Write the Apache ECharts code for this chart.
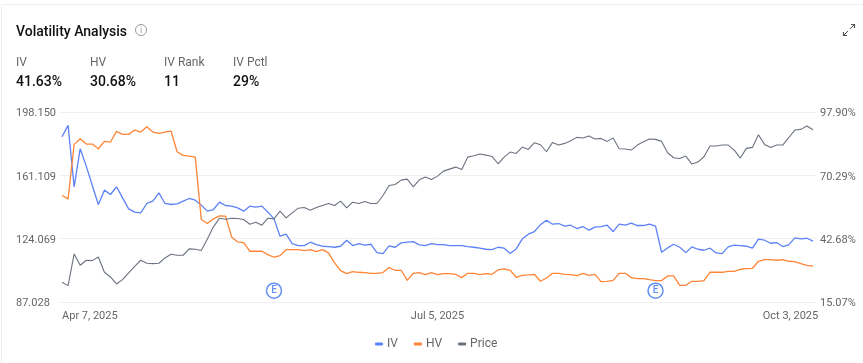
<!DOCTYPE html>
<html>
<head>
<meta charset="utf-8">
<style>html,body{margin:0;padding:0;background:#fff}#chart{width:863px;height:363px}</style>
<script src="https://cdn.jsdelivr.net/npm/echarts@6/dist/echarts.min.js"></script>
</head>
<body>
<div id="chart"></div>
<script>
var ivValues = [
  87.13,92.08,65.29,81.89,74.32,65.87,57.58,63.84,61.94,65.29,
  60.49,55.68,54.23,53.94,58.02,59.03,62.67,58.02,57.58,57.87,
  59.03,60.20,59.47,57.29,54.67,55.39,58.6,57.14,56.85,56.12,
  54.67,56.85,56.41,56.85,54.23,51.32,43.75,44.62,40.55,39.67,
  39.67,41.13,40.11,39.38,39.23,38.94,39.38,42.0,39.67,40.55,
  39.82,40.25,36.6,36.18,39.53,38.94,40.84,41.13,41.42,39.96,
  39.67,40.55,40.11,40.11,39.67,39.67,39.67,39.23,38.94,38.51,
  38.07,37.92,38.94,38.51,36.18,38.22,42.58,44.62,45.78,48.7,
  50.74,49.0,49.28,48.12,48.55,47.1,47.97,46.37,47.68,47.97,
  48.55,45.78,49.0,48.55,49.43,48.41,48.41,49.0,48.12,36.76,
  38.65,40.25,38.94,36.6,39.09,38.07,37.63,38.51,36.47,36.18,
  39.09,39.82,39.67,39.38,38.51,42.44,42.0,40.69,40.98,39.23,
  39.96,43.02,42.58,42.87,41.63
];
var hvValues = [
  61.51,60.05,83.78,86.25,83.93,83.93,81.89,85.09,84.8,89.45,
  88.15,88.15,90.04,89.17,91.5,89.17,88.58,89.17,89.6,80.58,
  78.98,78.69,78.25,51.03,49.28,51.32,52.63,52.48,43.46,41.27,
  40.98,37.2,37.2,37.2,35.74,34.58,35.3,37.92,37.92,37.92,
  37.49,37.92,37.05,37.92,36.47,32.1,28.75,27.44,28.32,28.03,
  27.88,27.59,27.59,27.88,30.06,28.9,28.9,24.53,27.59,27.88,
  27.01,27.88,27.01,27.44,27.44,27.15,25.7,27.59,27.59,27.01,
  27.44,27.15,29.05,29.48,28.9,25.84,26.72,26.86,27.15,24.1,
  25.55,27.59,27.59,27.15,27.01,26.57,27.59,26.72,27.15,23.95,
  24.1,24.53,27.59,27.59,25.7,25.26,25.26,24.82,24.39,24.39,
  26.42,26.42,22.35,22.35,24.1,24.1,24.39,28.03,28.03,28.03,
  28.46,28.46,29.34,29.63,29.77,32.83,33.56,33.56,33.27,33.56,
  32.83,32.68,31.81,31.08,30.68
];
var priceValues = [
  98.55,96.6,115.15,108.51,111.44,111.24,113.39,104.41,101.67,97.57,
  100.11,104.02,107.92,111.44,109.68,109.49,109.68,112.81,114.95,114.37,
  114.37,118.08,117.88,117.1,123.94,130.97,136.04,135.46,136.04,135.85,
  135.26,132.53,133.7,131.94,136.04,135.65,140.14,136.24,139.17,141.9,
  142.29,140.73,142.29,143.47,144.64,143.47,146.0,142.1,145.4,144.64,
  145.81,144.64,144.64,149.33,155.18,155.77,158.31,158.89,154.4,158.5,
  160.07,158.7,160.65,163.58,164.75,165.92,164.56,171.78,172.56,173.54,
  172.95,172.17,167.88,171.78,174.71,173.93,177.64,176.28,180.18,179.0,
  174.91,180.38,178.81,179.79,181.35,183.3,182.91,184.09,182.33,182.72,
  180.96,182.91,176.67,176.47,175.88,178.81,180.77,182.33,182.13,180.96,
  174.32,171.39,171.0,172.37,167.68,168.85,171.98,178.23,178.23,178.81,
  178.81,175.88,171.2,176.86,177.45,184.87,179.2,177.45,178.81,178.81,
  183.11,187.6,187.99,189.95,187.8
];
var priceTicks = [87.028, 124.069, 161.109, 198.150];
var pctTicks = [15.07, 42.68, 70.29, 97.90];
var xLabels = {0: 'Apr 7, 2025', 62: 'Jul 5, 2025', 124: 'Oct 3, 2025'};
var earnings = [[35, 20], [98, 20]];
var stats = [
  {name: 'IV', value: '41.63%', x: 16},
  {name: 'HV', value: '30.68%', x: 90},
  {name: 'IV Rank', value: '11', x: 164},
  {name: 'IV Pctl', value: '29%', x: 233}
];

var FONT = 'Roboto';
var categories = ivValues.map(function (v, i) { return i; });

var graphics = [
  {type: 'polyline', shape: {points: [[1.5, 363], [1.5, 4.5], [863, 4.5]]}, style: {fill: 'none', stroke: '#eeeeee', lineWidth: 1}, silent: true},
  {type: 'text', x: 16, y: 32, style: {text: 'Volatility Analysis', font: '500 14px ' + FONT, fill: '#111', verticalAlign: 'middle'}},
  {type: 'circle', shape: {cx: 141, cy: 30, r: 5.5}, style: {fill: 'none', stroke: '#999', lineWidth: 1}},
  {type: 'text', x: 141, y: 30.5, style: {text: 'i', font: '9px ' + FONT, fill: '#999', align: 'center', verticalAlign: 'middle'}},
  {type: 'polyline', shape: {points: [[850, 29], [855, 24]]}, style: {stroke: '#555', lineWidth: 1, fill: 'none'}},
  {type: 'polyline', shape: {points: [[851, 24.5], [854.5, 24.5], [854.5, 28]]}, style: {stroke: '#555', lineWidth: 1.2, fill: 'none'}},
  {type: 'polyline', shape: {points: [[848, 31], [843, 36]]}, style: {stroke: '#555', lineWidth: 1, fill: 'none'}},
  {type: 'polyline', shape: {points: [[843.5, 32], [843.5, 35.5], [847, 35.5]]}, style: {stroke: '#555', lineWidth: 1.2, fill: 'none'}}
];
stats.forEach(function (s) {
  graphics.push({type: 'text', x: s.x, y: 63, style: {text: s.name, font: '12px ' + FONT, fill: '#666', verticalAlign: 'middle'}});
  graphics.push({type: 'text', x: s.x, y: 82, style: {text: s.value, font: '500 14px ' + FONT, fill: '#111', verticalAlign: 'middle'}});
});

var option = {
  animation: false,
  textStyle: {fontFamily: FONT},
  graphic: graphics,
  legend: {
    left: 370, top: 333,
    itemWidth: 8, itemHeight: 3, itemGap: 16,
    icon: 'roundRect',
    data: ['IV', 'HV', 'Price'],
    textStyle: {color: '#666', fontSize: 12, fontFamily: FONT, padding: [0, 0, 0, -1]}
  },
  grid: {left: 59, right: 47, top: 112, height: 190},
  xAxis: {
    type: 'category',
    data: categories,
    boundaryGap: true,
    axisLine: {show: false},
    axisTick: {show: false},
    splitLine: {show: false},
    axisLabel: {
      color: '#666', fontSize: 11, fontFamily: FONT, margin: 9,
      alignMinLabel: 'left',
      interval: function (i) { return xLabels[i] !== undefined; },
      formatter: function (v, i) { return i === 124 ? '{last|' + xLabels[i] + '}' : xLabels[i]; },
      rich: {last: {color: '#666', fontSize: 11, fontFamily: FONT, padding: [0, 45, 0, 0]}}
    }
  },
  yAxis: [
    {
      type: 'value', position: 'left', min: priceTicks[0], max: priceTicks[3],
      axisLine: {show: false},
      axisTick: {show: false, customValues: priceTicks},
      splitLine: {show: true, lineStyle: {color: '#f0f0f0', width: 1}},
      axisLabel: {
        customValues: priceTicks, color: '#666', fontSize: 11, fontFamily: FONT,
        align: 'left', margin: 43, verticalAlign: 'top', lineHeight: 3,
        formatter: function (v) { return v.toFixed(3); }
      }
    },
    {
      type: 'value', position: 'right', min: pctTicks[0], max: pctTicks[3],
      axisLine: {show: false},
      axisTick: {show: false, customValues: pctTicks},
      splitLine: {show: false},
      axisLabel: {
        customValues: pctTicks, color: '#666', fontSize: 11, fontFamily: FONT, margin: 4,
        verticalAlign: 'top', lineHeight: 3,
        formatter: function (v) { return v.toFixed(2) + '%'; }
      }
    }
  ],
  series: [
    {name: 'IV', type: 'line', yAxisIndex: 1, data: ivValues, showSymbol: false, color: '#5b82f7', lineStyle: {width: 1.3}},
    {name: 'HV', type: 'line', yAxisIndex: 1, data: hvValues, showSymbol: false, color: '#ff8436', lineStyle: {width: 1.3}},
    {name: 'Price', type: 'line', yAxisIndex: 0, data: priceValues, showSymbol: false, color: '#6b7280', lineStyle: {width: 1.1}},
    {
      name: 'Earnings', type: 'scatter', yAxisIndex: 1, data: earnings, symbol: 'circle', symbolSize: 15,
      itemStyle: {color: '#fff', borderColor: '#3f74f0', borderWidth: 1.5},
      label: {show: true, position: 'inside', formatter: 'E', color: '#3f74f0', fontSize: 10, fontWeight: 500, fontFamily: FONT}
    }
  ]
};

var myChart = echarts.init(document.getElementById('chart'));
myChart.setOption(option);
</script>
</body>
</html>
